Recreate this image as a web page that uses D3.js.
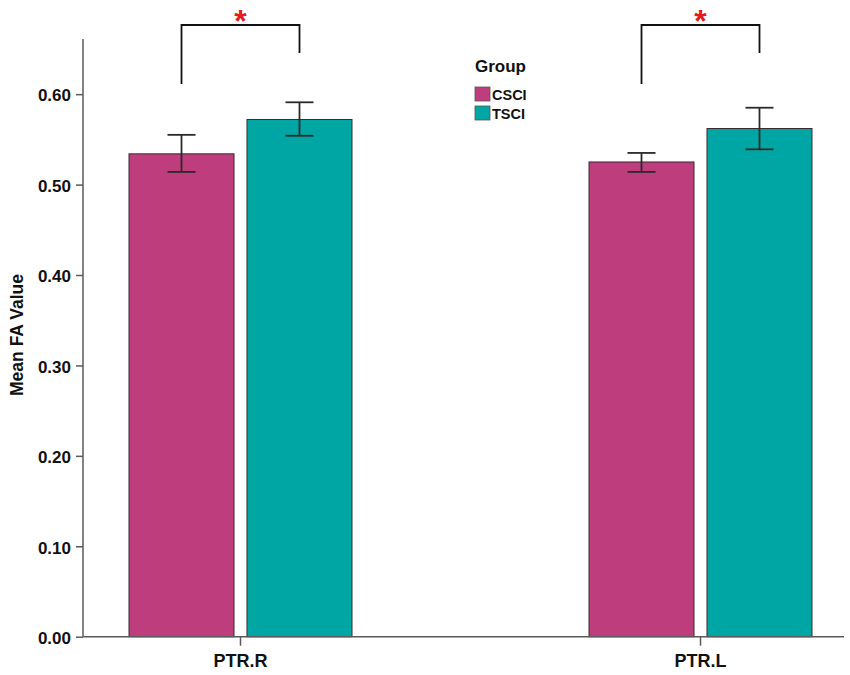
<!DOCTYPE html>
<html><head><meta charset="utf-8">
<script src="https://cdn.jsdelivr.net/npm/d3@7"></script>
<style>body{margin:0;background:#fff}svg{display:block}text{font-family:"Liberation Sans",Arial,sans-serif}</style>
</head><body>
<svg id="c" width="850" height="675"></svg>
<script>
const categories = ["PTR.R", "PTR.L"];
const groups = ["CSCI", "TSCI"];
const csciMean = [0.534, 0.525];
const csciLow  = [0.514, 0.514];
const csciHigh = [0.555, 0.535];
const tsciMean = [0.572, 0.562];
const tsciLow  = [0.554, 0.539];
const tsciHigh = [0.591, 0.585];
const yTicks = [0.00, 0.10, 0.20, 0.30, 0.40, 0.50, 0.60];
const significance = ["*", "*"];
const colors = ["#BE3D7C", "#00A6A4"];

const data = [];
categories.forEach((c, i) => {
  data.push({cat: c, grp: "CSCI", mean: csciMean[i], lo: csciLow[i], hi: csciHigh[i]});
  data.push({cat: c, grp: "TSCI", mean: tsciMean[i], lo: tsciLow[i], hi: tsciHigh[i]});
});

const svg = d3.select("#c");
const y = d3.scaleLinear().domain([0, 0.661]).range([636.7, 39]);
const x = d3.scalePoint().domain(categories).range([10, 930]).padding(0.5);
const xs = d3.scaleBand().domain(groups).range([-111, 112]).paddingInner(0.11).paddingOuter(0);
const col = d3.scaleOrdinal().domain(groups).range(colors);
const axisColor = "#5a5a5a";

// bars
svg.selectAll("rect.bar").data(data).join("rect")
  .attr("x", d => x(d.cat) + xs(d.grp))
  .attr("width", xs.bandwidth())
  .attr("y", d => y(d.mean))
  .attr("height", d => y(0) - y(d.mean))
  .attr("fill", d => col(d.grp))
  .attr("stroke", "#3a2a30").attr("stroke-width", 1);

// y axis
const yAxis = svg.append("g").attr("transform", "translate(83,0)")
  .call(d3.axisLeft(y).tickValues(yTicks).tickFormat(d3.format(".2f")).tickSize(7).tickSizeOuter(0));
yAxis.select(".domain").remove();
yAxis.append("line").attr("x1", 0).attr("x2", 0).attr("y1", y(0.661)).attr("y2", y(0))
  .attr("stroke", axisColor).attr("stroke-width", 1.5);
yAxis.selectAll(".tick line").attr("stroke", axisColor).attr("stroke-width", 1.5);
yAxis.selectAll(".tick text").attr("fill", "#111").attr("font-size", 17).attr("font-weight", "bold")
  .attr("x", -12).attr("dy", "0.4em");

// x axis
const xAxis = svg.append("g").attr("transform", `translate(0,${y(0)})`)
  .call(d3.axisBottom(x).tickSize(9).tickSizeOuter(0));
xAxis.select(".domain").remove();
xAxis.append("line").attr("x1", 83).attr("x2", 844).attr("y1", 0).attr("y2", 0)
  .attr("stroke", axisColor).attr("stroke-width", 1.5);
xAxis.selectAll(".tick line").attr("stroke", axisColor).attr("stroke-width", 1.5);
xAxis.selectAll(".tick text").attr("fill", "#111").attr("font-size", 18).attr("font-weight", "bold")
  .attr("y", 30).attr("dy", 0);

// y label
svg.append("text").attr("transform", `translate(23,335) rotate(-90)`)
  .attr("text-anchor", "middle").attr("font-size", 17.5).attr("font-weight", "bold").attr("fill", "#111")
  .text("Mean FA Value");

// error bars
const eb = svg.selectAll("g.eb").data(data).join("g")
  .attr("transform", d => `translate(${x(d.cat) + xs(d.grp) + xs.bandwidth() / 2},0)`);
eb.append("line").attr("y1", d => y(d.lo)).attr("y2", d => y(d.hi)).attr("stroke", "#2a2a2a").attr("stroke-width", 1.8);
eb.append("line").attr("x1", -14).attr("x2", 14).attr("y1", d => y(d.hi)).attr("y2", d => y(d.hi)).attr("stroke", "#2a2a2a").attr("stroke-width", 1.8);
eb.append("line").attr("x1", -14).attr("x2", 14).attr("y1", d => y(d.lo)).attr("y2", d => y(d.lo)).attr("stroke", "#2a2a2a").attr("stroke-width", 1.8);

// significance brackets
categories.forEach((c, i) => {
  const xl = x(c) + xs("CSCI") + xs.bandwidth() / 2;
  const xr = x(c) + xs("TSCI") + xs.bandwidth() / 2;
  svg.append("path")
    .attr("d", `M${xl},84 L${xl},25 L${xr},25 L${xr},53`)
    .attr("fill", "none").attr("stroke", "#111").attr("stroke-width", 1.8);
  svg.append("text").attr("x", (xl + xr) / 2).attr("y", 32).attr("text-anchor", "middle")
    .attr("font-size", 32).attr("font-weight", "bold").attr("fill", "#e8191c").text(significance[i]);
});

// legend
const lg = svg.append("g").attr("transform", "translate(475,72)");
lg.append("text").attr("x", 0).attr("y", 0).attr("font-size", 17).attr("font-weight", "bold").attr("fill", "#111").text("Group");
groups.forEach((g, i) => {
  lg.append("rect").attr("x", 0).attr("y", 15 + i * 19).attr("width", 15).attr("height", 14)
    .attr("fill", col(g)).attr("stroke", "#555").attr("stroke-width", 0.8);
  lg.append("text").attr("x", 17).attr("y", 28 + i * 19).attr("font-size", 14.5).attr("font-weight", "bold").attr("fill", "#111").text(g);
});
</script>
</body></html>
